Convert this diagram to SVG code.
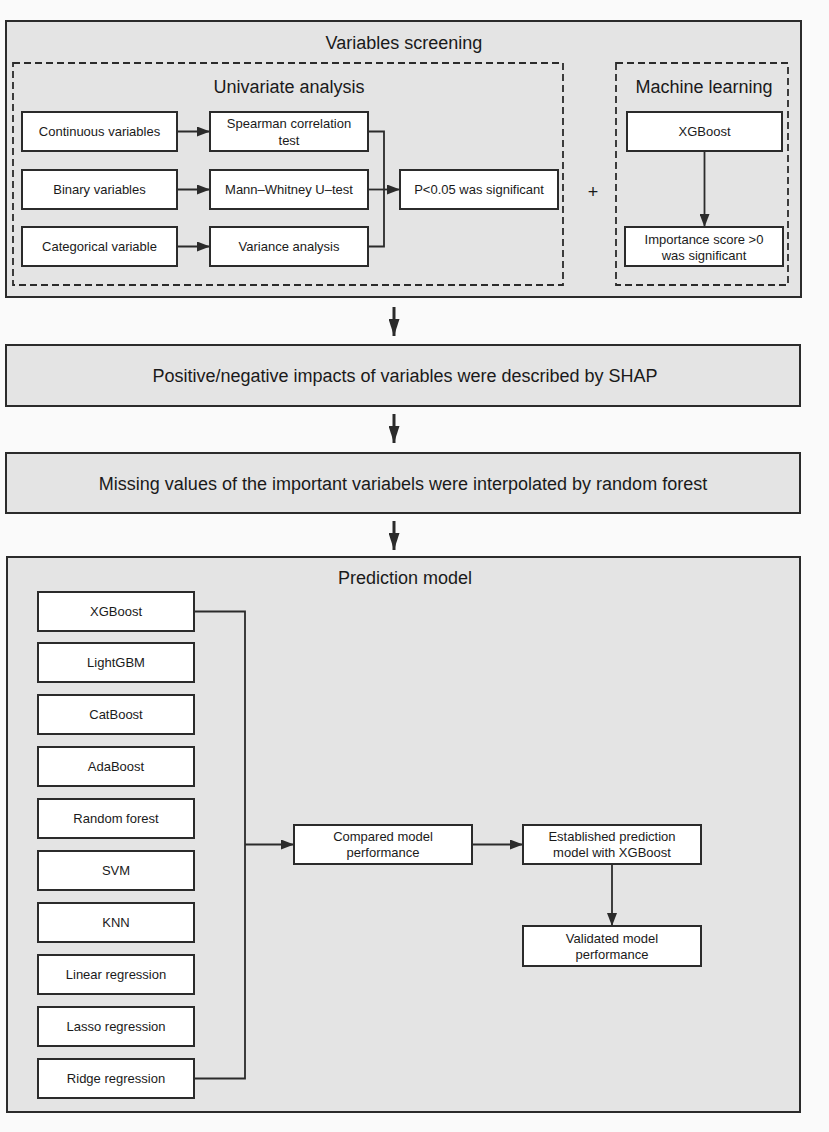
<svg xmlns="http://www.w3.org/2000/svg" width="829" height="1132" viewBox="0 0 829 1132">
<defs>
<style>
.bg{fill:#fafafa}
.panel{fill:#e4e4e4;stroke:#2b2b2b;stroke-width:2}
.dash{fill:none;stroke:#2b2b2b;stroke-width:1.8;stroke-dasharray:7,4}
.box{fill:#fff;stroke:#2b2b2b;stroke-width:2}
.t{font-family:"Liberation Sans",Arial,sans-serif;fill:#1a1a1a;text-anchor:middle}
.s{font-size:13px}
.h{font-size:18px}
.w{font-size:18px}
.c{fill:none;stroke:#2b2b2b;stroke-width:1.8}
.big{fill:none;stroke:#2b2b2b;stroke-width:3}
</style>
<marker id="ah" markerWidth="13" markerHeight="10" refX="13" refY="5" orient="auto" markerUnits="userSpaceOnUse">
<path d="M0,0 L13,5 L0,10 Z" fill="#2b2b2b"/>
</marker>
<marker id="bh" markerWidth="17" markerHeight="11" refX="17" refY="5.5" orient="auto" markerUnits="userSpaceOnUse">
<path d="M0,0 L17,5.5 L0,11 Z" fill="#2b2b2b"/>
</marker>
</defs>
<rect class="bg" x="0" y="0" width="829" height="1132"/>

<g id="variables-screening">
<rect class="panel" x="6" y="21" width="795" height="276"/>
<text class="t h" x="404" y="49">Variables screening</text>
</g>
<g id="univariate-analysis">
<rect class="dash" x="13" y="63" width="550" height="222"/>
<text class="t h" x="289" y="93">Univariate analysis</text>
</g>
<g id="machine-learning">
<rect class="dash" x="616" y="63" width="172" height="222"/>
<text class="t h" x="704" y="93">Machine learning</text>
</g>
<g id="continuous"><rect class="box" x="22" y="112" width="155" height="39"/><text class="t s" x="99.5" y="136">Continuous variables</text></g>
<g id="binary"><rect class="box" x="22" y="170" width="155" height="39"/><text class="t s" x="99.5" y="194">Binary variables</text></g>
<g id="categorical"><rect class="box" x="22" y="227" width="155" height="39"/><text class="t s" x="99.5" y="251">Categorical variable</text></g>
<g id="spearman"><rect class="box" x="210" y="112" width="158" height="39"/><text class="t s" x="289" y="128">Spearman correlation</text><text class="t s" x="289" y="145">test</text></g>
<g id="mann"><rect class="box" x="210" y="170" width="158" height="39"/><text class="t s" x="289" y="194">Mann–Whitney U–test</text></g>
<g id="variance"><rect class="box" x="210" y="227" width="158" height="39"/><text class="t s" x="289" y="251">Variance analysis</text></g>
<g id="pvalue"><rect class="box" x="400" y="170" width="158" height="39"/><text class="t s" x="479" y="194">P&lt;0.05 was significant</text></g>
<g id="plus"><text class="t" style="font-size:18px" x="593" y="198">+</text></g>
<g id="xgb-ml"><rect class="box" x="627" y="112" width="155" height="39"/><text class="t s" x="704.5" y="136">XGBoost</text></g>
<g id="importance"><rect class="box" x="625" y="227" width="158" height="39"/><text class="t s" x="704" y="244">Importance score &gt;0</text><text class="t s" x="704" y="260">was significant</text></g>

<g id="shap"><rect class="panel" x="6" y="345" width="794" height="61"/><text class="t w" x="405" y="382">Positive/negative impacts of variables were described by SHAP</text></g>
<g id="missing"><rect class="panel" x="6" y="453" width="794" height="60"/><text class="t w" x="403" y="490">Missing values of the important variabels were interpolated by random forest</text></g>

<g id="prediction-model">
<rect class="panel" x="7" y="557" width="793" height="555"/>
<text class="t h" x="405" y="584">Prediction model</text>
</g>
<g id="m-xgb"><rect class="box" x="38" y="592" width="156" height="39"/><text class="t s" x="116" y="616">XGBoost</text></g>
<g id="m-lgbm"><rect class="box" x="38" y="643" width="156" height="39"/><text class="t s" x="116" y="667">LightGBM</text></g>
<g id="m-cat"><rect class="box" x="38" y="695" width="156" height="39"/><text class="t s" x="116" y="719">CatBoost</text></g>
<g id="m-ada"><rect class="box" x="38" y="747" width="156" height="39"/><text class="t s" x="116" y="771">AdaBoost</text></g>
<g id="m-rf"><rect class="box" x="38" y="799" width="156" height="39"/><text class="t s" x="116" y="823">Random forest</text></g>
<g id="m-svm"><rect class="box" x="38" y="851" width="156" height="39"/><text class="t s" x="116" y="875">SVM</text></g>
<g id="m-knn"><rect class="box" x="38" y="903" width="156" height="39"/><text class="t s" x="116" y="927">KNN</text></g>
<g id="m-lin"><rect class="box" x="38" y="955" width="156" height="39"/><text class="t s" x="116" y="979">Linear regression</text></g>
<g id="m-lasso"><rect class="box" x="38" y="1007" width="156" height="39"/><text class="t s" x="116" y="1031">Lasso regression</text></g>
<g id="m-ridge"><rect class="box" x="38" y="1059" width="156" height="39"/><text class="t s" x="116" y="1083">Ridge regression</text></g>
<g id="compared"><rect class="box" x="294" y="825" width="178" height="39"/><text class="t s" x="383" y="841">Compared model</text><text class="t s" x="383" y="857">performance</text></g>
<g id="established"><rect class="box" x="523" y="825" width="178" height="39"/><text class="t s" x="612" y="841">Established prediction</text><text class="t s" x="612" y="857">model with XGBoost</text></g>
<g id="validated"><rect class="box" x="523" y="926" width="178" height="40"/><text class="t s" x="612" y="943">Validated model</text><text class="t s" x="612" y="959">performance</text></g>

<g id="connectors">
<line class="c" x1="177" y1="131.5" x2="210" y2="131.5" marker-end="url(#ah)"/>
<line class="c" x1="177" y1="189.5" x2="210" y2="189.5" marker-end="url(#ah)"/>
<line class="c" x1="177" y1="246.5" x2="210" y2="246.5" marker-end="url(#ah)"/>
<polyline class="c" points="368,131.5 384,131.5 384,246.5 368,246.5"/>
<line class="c" x1="368" y1="189.5" x2="400" y2="189.5" marker-end="url(#ah)"/>
<line class="c" x1="704.5" y1="151" x2="704.5" y2="227" marker-end="url(#ah)"/>
<line class="big" x1="394" y1="307" x2="394" y2="336" marker-end="url(#bh)"/>
<line class="big" x1="394" y1="414" x2="394" y2="443" marker-end="url(#bh)"/>
<line class="big" x1="394" y1="521" x2="394" y2="550" marker-end="url(#bh)"/>
<polyline class="c" points="194,611.5 245,611.5 245,1078.5 194,1078.5"/>
<line class="c" x1="245" y1="844.5" x2="294" y2="844.5" marker-end="url(#ah)"/>
<line class="c" x1="472" y1="844.5" x2="523" y2="844.5" marker-end="url(#ah)"/>
<line class="c" x1="612" y1="864" x2="612" y2="926" marker-end="url(#ah)"/>
</g>
</svg>
